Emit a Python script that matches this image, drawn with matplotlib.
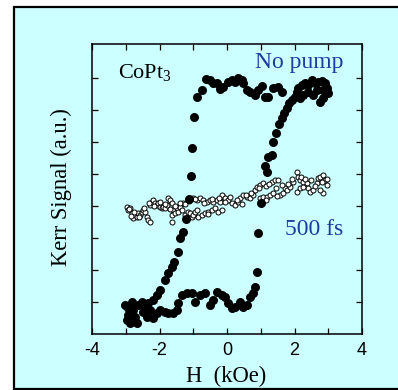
import matplotlib
matplotlib.use("Agg")
import matplotlib.pyplot as plt
from matplotlib.patches import Rectangle

# Kerr hysteresis loop of CoPt3 without pump (field in kOe, signal in a.u.)
h_nopump = [
    2.22, 2.31, 2.40, 2.52, 2.61, 2.70, 2.81, 2.90, 2.96, 2.99, 2.84, 2.76,
    2.55, 2.40, 2.25, 2.16, 2.67, 2.84,
    1.63, 1.51, 1.36, 1.21, 1.13, 1.04, 0.92, 0.83, 0.68, 0.59, 0.47, 0.44,
    0.33, 0.24, 0.15, 0.03, -0.12, -0.21, -0.30, -0.41, -0.50, -0.62, -0.74, -0.89,
    -0.98, -1.04, -1.07, -1.13, -1.22,
    -1.30, -1.39, -1.45, -1.57, -1.63, -1.75, -1.84, -1.99, -2.07, -2.19, -2.34,
    -3.02, -2.93, -2.96, -2.87, -2.79, -2.73, -2.64, -2.52, -2.49, -2.37, -2.43,
    -2.28, -2.93, -2.67, -2.81,
    -2.19, -2.07, -1.99, -1.84, -1.75, -1.60, -1.48, -1.45, -1.33, -1.19, -1.04,
    -0.95, -0.80, -0.65, -0.50, -0.41, -0.30, -0.15, -0.06, 0.03, 0.15, 0.24,
    0.39, 0.47, 0.59, 0.68, 0.77, 0.83, 0.89, 0.92, 1.01, 1.13, 1.18, 1.21, 1.33,
    1.36, 1.45, 1.54, 1.63, 1.69, 1.78, 1.84, 1.93, 2.01, 2.07, 2.10,
]
kerr_nopump = [
    3.78, 3.84, 3.78, 3.94, 3.84, 3.88, 3.91, 3.84, 3.69, 3.53, 3.38, 3.25,
    3.47, 3.56, 3.47, 3.38, 3.63, 3.63,
    3.56, 3.72, 3.69, 3.41, 3.41, 3.75, 3.63, 3.47, 3.56, 3.63, 3.84, 3.94,
    4.00, 3.88, 3.94, 3.88, 3.72, 3.66, 3.84, 3.84, 3.94, 3.97, 3.63, 3.41,
    2.78, 1.81, 0.94, 0.22, -0.40,
    -0.81, -1.00, -1.44, -1.75, -1.91, -2.09, -2.31, -2.63, -2.78, -2.94, -3.03,
    -3.09, -3.19, -3.56, -3.66, -3.25, -3.47, -3.09, -3.00, -3.31, -3.47, -3.16,
    -3.25, -3.41, -3.66, -3.00,
    -3.50, -3.34, -3.25, -3.31, -3.34, -3.34, -3.25, -3.03, -2.78, -2.72, -2.72,
    -3.00, -2.78, -2.72, -3.09, -2.94, -2.69, -2.78, -2.84, -3.03, -3.19, -3.16,
    -3.00, -3.16, -3.09, -2.84, -2.72, -2.53, -2.06, -0.84, 0.09, 1.25, 1.06, 1.53, 1.59,
    2.00, 2.28, 2.56, 2.75, 2.91, 3.06, 3.22, 3.31, 3.41, 3.56, 3.69,
]

# Kerr signal 500 fs after the pump pulse
h_500fs = [
    -2.96, -2.93, -2.87, -2.81, -2.79, -2.73, -2.67, -2.64, -2.58, -2.52, -2.49,
    -2.43, -2.37, -2.34, -2.28, -2.28, -2.22, -2.19, -2.13, -2.07, -2.04, -1.99,
    -1.93, -1.90, -1.84, -1.78, -1.75, -1.69, -1.63, -1.60, -1.63, -1.63, -1.54,
    -1.48, -1.45, -1.39, -1.33, -1.30, -1.24, -1.19, -1.16, -1.10, -1.04, -1.01,
    -0.95, -0.89, -1.01, -0.89, -0.80, -0.71, -0.59, -0.50, -0.41, -0.30, -0.21,
    -0.12, 0.00, -0.86, -0.74, -0.65, -0.56, -0.44, -0.36, -0.27, -0.15, -0.15,
    -0.06, 0.03, 0.15, 0.24, 0.33, 0.39, 0.47, 0.59, 0.68, 0.77, 0.83, 0.89,
    0.98, 1.07, 0.98, 1.07, 1.19, 1.27, 1.36, 1.33, 1.42, 1.51, 1.57, 1.66,
    1.72, 1.78, 1.87, 1.96, 2.07, 2.10, 2.16, 2.25, 2.37, 2.40, 2.46, 2.55,
    2.67, 2.70, 2.76, 2.84, 2.90, 2.96, 2.84, 2.76, 2.07, 2.16, 2.25,
    -2.90, -2.85, -2.75, -2.60, -2.45, -2.30, -2.15, -2.00, -1.85, -1.70,
    -1.55, -1.40, -1.25, -1.12, -0.95, -0.68, -0.45, -0.25, -0.05, 0.10,
    0.30, 0.55, 0.72, 0.95, 1.15, 1.25, 1.45, 1.62, 1.80, 1.92,
    2.20, 2.32, 2.50, 2.62, 2.80, 2.95, 1.15, 1.48, 0.45, -0.55,
]
kerr_500fs = [
    -0.03, -0.13, -0.06, -0.22, -0.38, -0.28, -0.34, -0.22, -0.28, -0.19, -0.13,
    -0.19, -0.34, -0.44, -0.50, 0.03, 0.13, 0.19, 0.09, 0.03, 0.09, -0.03,
    -0.06, -0.03, -0.06, 0.03, 0.25, 0.19, 0.09, -0.13, -0.28, -0.50, -0.22,
    -0.06, -0.19, -0.03, -0.13, 0.09, -0.28, -0.38, -0.19, -0.22, -0.34, -0.28,
    -0.19, -0.13, 0.25, 0.19, 0.25, 0.19, 0.13, 0.19, 0.13, 0.19, 0.13,
    0.28, 0.19, -0.34, -0.28, -0.22, -0.19, -0.13, -0.06, -0.19, -0.13, 0.34,
    0.25, 0.19, 0.09, 0.03, 0.13, 0.25, 0.34, 0.28, 0.25, 0.34, 0.50, 0.59,
    0.66, 0.72, 0.25, 0.28, 0.28, 0.34, 0.41, 0.75, 0.81, 0.81, 0.34, 0.41,
    0.56, 0.50, 0.59, 0.75, 1.06, 0.91, 0.81, 0.75, 0.72, 0.56, 0.44, 0.50,
    0.72, 0.88, 0.91, 0.97, 0.81, 0.66, 0.41, 0.50, 0.44, 0.56, 0.59,
    -0.10, -0.30, -0.20, -0.35, -0.05, 0.10, 0.00, 0.12, 0.05, -0.10,
    0.00, 0.10, 0.05, 0.15, 0.22, 0.10, 0.22, 0.25, 0.12, 0.28,
    0.20, 0.35, 0.42, 0.55, 0.62, 0.70, 0.55, 0.65, 0.68, 0.85,
    0.92, 0.85, 0.80, 0.62, 0.75, 0.85, 0.20, 0.30, 0.05, -0.25,
]

x_ticks = [-4, -3, -2, -1, 0, 1, 2, 3, 4]
x_tick_labels = ["-4", "", "-2", "", "0", "", "2", "", "4"]

panel_color = "#CCFFFF"
label_blue = "#1B3D9E"

plt.rcParams["mathtext.fontset"] = "custom"
plt.rcParams["mathtext.rm"] = "Liberation Serif"
plt.rcParams["mathtext.it"] = "Liberation Serif"

fig = plt.figure(figsize=(3.98, 3.90), dpi=100)
fig.patch.set_facecolor("white")

# framed cyan panel behind the plot
panel = Rectangle((13.5 / 398, 1.5 / 390), 1.0, 1 - 8.5 / 390,
                  transform=fig.transFigure, facecolor=panel_color,
                  edgecolor="black", linewidth=1.6, zorder=-10)
fig.add_artist(panel)

ax = fig.add_axes([92 / 398, 1 - 334 / 390, 270 / 398, 290 / 390])
ax.set_facecolor(panel_color)

ax.scatter(h_500fs, kerr_500fs, s=13, facecolors="white", edgecolors="black",
           linewidths=0.7, zorder=2)
ax.scatter(h_nopump, kerr_nopump, s=42, color="black", linewidths=0, zorder=3)

ax.set_xlim(-4, 4)
ax.set_ylim(-4, 5.06)
ax.set_xticks(x_ticks)
ax.set_xticklabels(x_tick_labels, fontfamily="Liberation Sans", fontsize=13)
ax.set_yticks([-3, -2, -1, 0, 1, 2, 3, 4])
ax.set_yticklabels([])
ax.tick_params(direction="in", length=4, width=0.9, top=True, right=True, pad=6)
for sp in ax.spines.values():
    sp.set_linewidth(1.1)

ax.text(-3.23, 4.0, "CoPt$_3$", fontfamily="Liberation Serif", fontsize=16,
        color="black", ha="left", va="baseline")
ax.text(0.83, 4.31, "No pump", fontfamily="Liberation Serif", fontsize=17,
        color=label_blue, ha="left", va="baseline")
ax.text(1.72, -0.91, "500 fs", fontfamily="Liberation Serif", fontsize=17,
        color=label_blue, ha="left", va="baseline")

fig.text(61 / 398, 1 - 187.5 / 390, "Kerr Signal (a.u.)", rotation=90,
         fontfamily="Liberation Serif", fontsize=16.3, ha="center", va="center")
fig.text(226 / 398, 1 - 376 / 390, "H  (kOe)", fontfamily="Liberation Serif",
         fontsize=16.3, ha="center", va="center")

fig.savefig("out.png", dpi=100, facecolor=fig.get_facecolor())
